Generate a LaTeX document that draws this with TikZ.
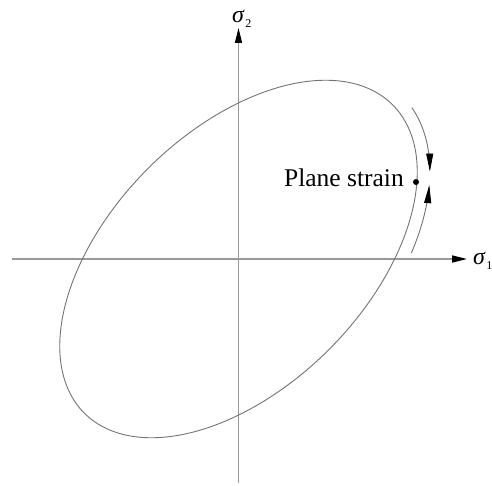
\documentclass[tikz,border=0pt]{standalone}
\usepackage{fontspec}
\setmainfont{Liberation Serif}
\usetikzlibrary{arrows.meta}
\begin{document}
\begin{tikzpicture}[x=1pt,y=-1pt,
  axis/.style={draw=black!40, line width=1.3pt},
  curve/.style={draw=black!55, line width=0.9pt},
  axtip/.style={-{Triangle[length=15pt,width=7pt,color=black]}},
  arctip/.style={-{Triangle[length=18pt,width=7pt,color=black]}},
  lbl/.style={inner sep=0pt, font=\fontsize{25.5}{28}\selectfont},
  sig/.style={inner sep=0pt, font=\fontsize{24}{26}\selectfont\itshape},
  sub/.style={inner sep=0pt, font=\fontsize{12}{14}\selectfont}]
\useasboundingbox (0,0) rectangle (492,486);
\coordinate (O) at (238.5,259);
\coordinate (xs) at (12,259);
\coordinate (xe) at (467,259);
\coordinate (ys) at (238.5,483);
\coordinate (ye) at (238.5,28);
% axes
\draw[axis, axtip] (xs) -- (xe);
\draw[axis, axtip] (ys) -- (ye);
% ellipse
\draw[curve] plot[domain=0:360, samples=180, smooth cycle]
  ({238.5+(218*cos(\x)+128*sin(\x))/sqrt(2)}, {259+(-218*cos(\x)+128*sin(\x))/sqrt(2)});
% direction arcs
\draw[curve, arctip] plot[domain=6.3:31.4, samples=30, smooth]
  ({238.5+(231*cos(\x)+141*sin(\x))/sqrt(2)}, {259+(-231*cos(\x)+141*sin(\x))/sqrt(2)});
\draw[curve, arctip] plot[domain=56.8:35.9, samples=30, smooth]
  ({238.5+(231*cos(\x)+141*sin(\x))/sqrt(2)}, {259+(-231*cos(\x)+141*sin(\x))/sqrt(2)});
% plane strain point
\fill (416,182) circle (3pt) coordinate (ps);
\node[lbl, anchor=base east] (pslbl) at (404,187) {Plane strain};
% axis labels
\node[sig, anchor=base west] (s2) at (232,23) {σ};
\node[sub, anchor=base west] (s2i) at (s2.base east) [xshift=1pt, yshift=-5pt] {2};
\node[sig, anchor=base west] (s1) at (473,264) {σ};
\node[sub, anchor=base west] (s1i) at (s1.base east) [xshift=1pt, yshift=-5pt] {1};
\end{tikzpicture}
\end{document}
